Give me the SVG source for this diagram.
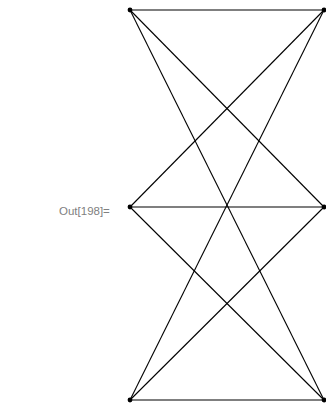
<svg xmlns="http://www.w3.org/2000/svg" width="326" height="405" viewBox="0 0 326 405">
<style>
.e{stroke:#000;stroke-width:1.1;fill:none}
.n{fill:#000}
.lbl{font-family:"Liberation Sans",Arial,sans-serif;font-size:11.5px;fill:#808080}
</style>
<rect width="326" height="405" fill="#fff"/>
<text class="lbl" x="59" y="215">Out[198]=</text>
<g id="edges">
<line class="e" x1="130" y1="10" x2="324" y2="10"/>
<line class="e" x1="130" y1="10" x2="324" y2="207"/>
<line class="e" x1="130" y1="10" x2="324" y2="400"/>
<line class="e" x1="130" y1="207" x2="324" y2="10"/>
<line class="e" x1="130" y1="207" x2="324" y2="207"/>
<line class="e" x1="130" y1="207" x2="324" y2="400"/>
<line class="e" x1="130" y1="400" x2="324" y2="10"/>
<line class="e" x1="130" y1="400" x2="324" y2="207"/>
<line class="e" x1="130" y1="400" x2="324" y2="400"/>
</g>
<g id="n1"><circle class="n" cx="130" cy="10" r="2.4"/></g>
<g id="n2"><circle class="n" cx="130" cy="207" r="2.4"/></g>
<g id="n3"><circle class="n" cx="130" cy="400" r="2.4"/></g>
<g id="n4"><circle class="n" cx="324" cy="10" r="2.4"/></g>
<g id="n5"><circle class="n" cx="324" cy="207" r="2.4"/></g>
<g id="n6"><circle class="n" cx="324" cy="400" r="2.4"/></g>
</svg>
